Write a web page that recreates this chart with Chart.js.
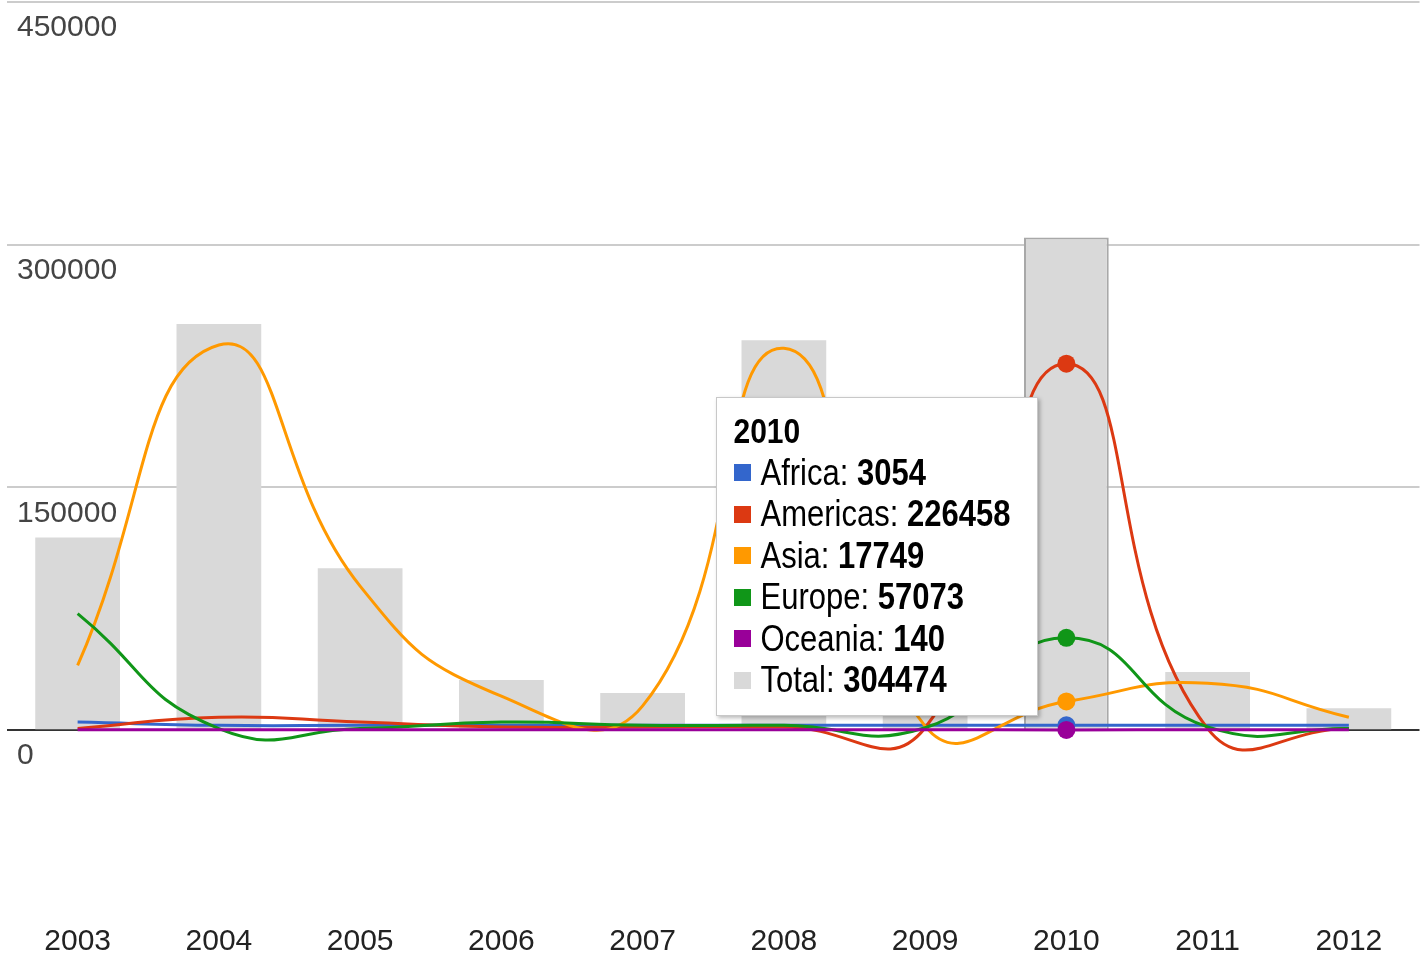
<!DOCTYPE html>
<html><head><meta charset="utf-8">
<script src="https://cdn.jsdelivr.net/npm/chart.js@4.4.1/dist/chart.umd.min.js"></script>
<style>
html,body{margin:0;padding:0;background:#fff;overflow:hidden}
#wrap{position:relative;width:1421px;height:959px}
#tip{position:absolute;display:none;background:#fff;border:1px solid #c8c8c8;box-shadow:2px 2px 4px rgba(0,0,0,.28);padding:12px 6px 16px 17px;box-sizing:border-box;color:#000;white-space:nowrap}
#tip .row{height:41.5px;line-height:41.5px;display:flex;align-items:center}
#tip .sw{width:17px;height:17px;margin-right:10px;flex:none}
#tip .t{display:inline-block}
</style></head>
<body><div id="wrap"><canvas id="c" width="1421" height="959"></canvas><div id="tip"></div></div>
<script>
const years = ['2003','2004','2005','2006','2007','2008','2009','2010','2011','2012'];
const africa   = [5000, 3000, 3000, 3000, 3000, 3000, 3000, 3054, 3000, 3000];
const americas = [1000, 8000, 5000, 2000, 2000, 2000, 1500, 226458, 1000, 1000];
const asia     = [40000, 238000, 89000, 21000, 15000, 236000, 2500, 17749, 29000, 8000];
const europe   = [72000, 1000, 1000, 5000, 3000, 3000, 1500, 57073, 2000, 1000];
const oceania  = [300, 300, 300, 300, 300, 300, 300, 140, 300, 300];
const total    = [119000, 251000, 100000, 31000, 23000, 241000, 10000, 304474, 36000, 13500];
const yTicks = [0, 150000, 300000, 450000];
const yTickLabels = ['0', '150000', '300000', '450000'];
const highlightYear = '2010';

function hasFont(name){
  const c=document.createElement('canvas').getContext('2d');
  const s='0123456789AbcWxyz';
  c.font='40px monospace'; const a=c.measureText(s).width;
  c.font='40px "'+name+'", monospace'; const b=c.measureText(s).width;
  return Math.abs(a-b)>0.5;
}
const narrow = hasFont('Liberation Sans Narrow');
const FAMILY = narrow ? '"Liberation Sans Narrow", "Liberation Sans", Arial, sans-serif' : '"Liberation Sans", Arial, sans-serif';
const FSIZE = narrow ? 36 : 30;
const ROWSIZE = narrow ? 37.5 : 31;
const STRETCH = narrow ? '' : 'transform:scaleY(1.18);';

function lineDs(label, data, color, order){
  return {type:'line', label, data, borderColor:color, backgroundColor:color, borderWidth:3,
    pointRadius:0, pointHoverRadius:9, pointHoverBorderWidth:0, pointHoverBackgroundColor:color,
    pointHitRadius:0, tension:0.5, fill:false, order};
}

const tipEl = document.getElementById('tip');
function externalTip(ctx){
  const t = ctx.tooltip;
  if (!t.opacity || !t.dataPoints || !t.dataPoints.length){ tipEl.style.display='none'; return; }
  let html = '<div class="row"><span class="t" style="font-weight:bold;font-size:'+FSIZE+'px;'+STRETCH+'">'+t.title[0]+'</span></div>';
  t.dataPoints.forEach(dp=>{
    html += '<div class="row"><span class="sw" style="background:'+dp.dataset.backgroundColor+'"></span>'+
      '<span class="t" style="font-size:'+ROWSIZE+'px;'+STRETCH+'">'+dp.dataset.label+': <b>'+dp.raw+'</b></span></div>';
  });
  tipEl.innerHTML = html;
  tipEl.style.font = FSIZE+'px '+FAMILY;
  tipEl.style.width = '322px';
  tipEl.style.height = '319px';
  tipEl.style.display = 'block';
  const w = tipEl.offsetWidth, h = tipEl.offsetHeight;
  tipEl.style.left = (t.caretX - 30 - w) + 'px';
  tipEl.style.top = (t.caretY - h/2 - 9) + 'px';
}

const chart = new Chart(document.getElementById('c'), {
  type:'bar',
  data:{
    labels: years,
    datasets:[
      lineDs('Africa', africa, '#3366cc', 5),
      lineDs('Americas', americas, '#dc3912', 4),
      lineDs('Asia', asia, '#ff9900', 3),
      lineDs('Europe', europe, '#109618', 2),
      lineDs('Oceania', oceania, '#990099', 1),
      {type:'bar', label:'Total', data: total, backgroundColor:'#d9d9d9', hoverBackgroundColor:'#d9d9d9',
       borderWidth:0, hoverBorderWidth:2, hoverBorderColor:'#a8a8a8', barPercentage:0.6, categoryPercentage:1, order:10}
    ]
  },
  options:{
    responsive:false, devicePixelRatio:1, animation:false, events:[],
    layout:{padding:{top:2, left:7, right:0, bottom:0}},
    interaction:{mode:'index', intersect:false},
    plugins:{
      legend:{display:false},
      tooltip:{enabled:false, external: externalTip, position:'average', itemSort:(a,b)=>a.datasetIndex-b.datasetIndex, animation:false}
    },
    scales:{
      x:{
        offset:true,
        grid:{display:false, drawTicks:false},
        border:{display:false},
        ticks:{font:{family:FAMILY, size:FSIZE}, color:'#222', padding: narrow?28:32, maxRotation:0, autoSkip:false},
        afterFit:(s)=>{ s.height = 67; s.paddingLeft = 0; s.paddingRight = 0; }
      },
      y:{
        min:-100000, max:450000,
        afterBuildTicks:(s)=>{ s.ticks = yTicks.map(v=>({value:v})); },
        grid:{drawTicks:false, lineWidth:2, color:(c)=> c.tick && c.tick.value===0 ? '#333333' : '#cccccc'},
        border:{display:false},
        ticks:{mirror:true, padding:10, labelOffset:26, color:'#444', font:{family:FAMILY, size:FSIZE},
          callback:(v,i)=> yTickLabels[i]},
        afterFit:(s)=>{ s.width = 0; s.paddingTop = 0; s.paddingBottom = 0; }
      }
    }
  }
});

const idx = years.indexOf(highlightYear);
const active = chart.data.datasets.map((d,i)=>({datasetIndex:i, index:idx}));
chart.setActiveElements(active);
chart.tooltip.setActiveElements(active, {x:0, y:0});
chart.update();
</script>
</body></html>
